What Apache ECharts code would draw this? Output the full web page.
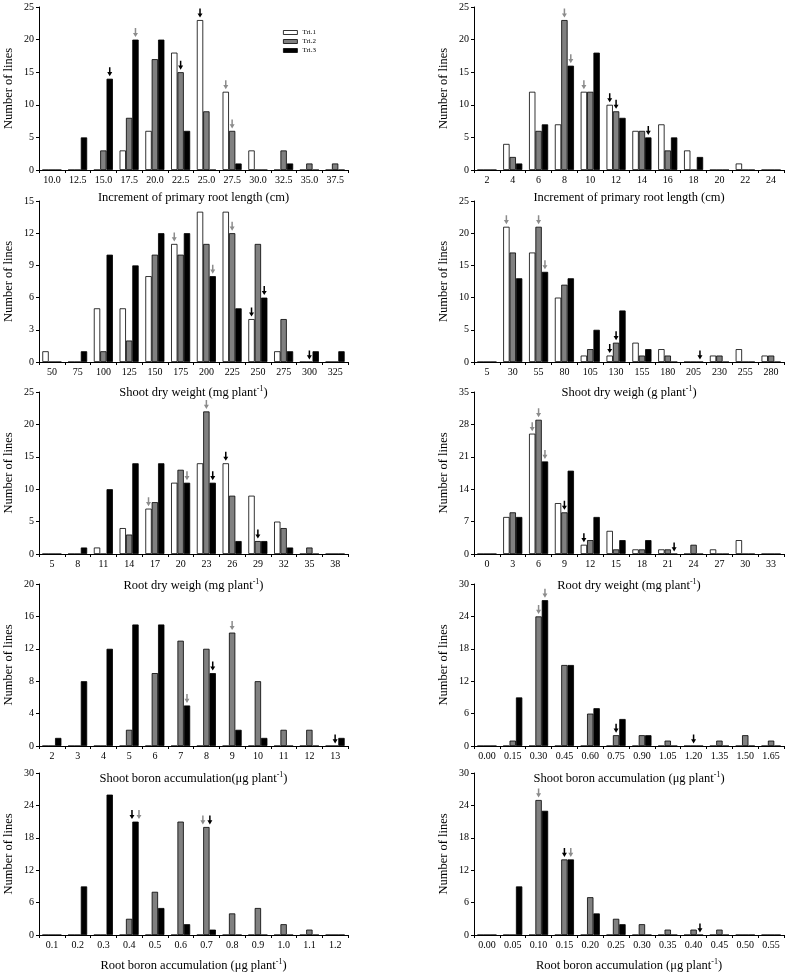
<!DOCTYPE html>
<html><head><meta charset="utf-8">
<script src="https://cdn.jsdelivr.net/npm/echarts@6/dist/echarts.min.js"></script>
<style>html,body{margin:0;padding:0;background:#fff}#c{width:787px;height:975px}</style>
</head><body><div id="c"></div>
<script>
const FONT = '"Liberation Serif", "Times New Roman", serif';
const seriesNames = ['Tri.1', 'Tri.2', 'Tri.3'];

// ---- Panel 1: Increment of primary root length (left) ----
const p1Cats = ['10.0','12.5','15.0','17.5','20.0','22.5','25.0','27.5','30.0','32.5','35.0','37.5'];
const p1Tri1 = [0,0,0,3,6,18,23,12,3,0,0,0];
const p1Tri2 = [0,0,3,8,17,15,9,6,0,3,1,1];
const p1Tri3 = [0,5,14,20,20,6,0,1,0,1,0,0];
const p1Ticks = [0,25,5];
const p1Arrows = [[2,2,'k'],[2,3,'g'],[1,5,'k'],[0,6,'k'],[0,7,'g'],[1,7,'g']];
const p1Name = 'Increment of primary root length (cm)';

// ---- Panel 2: Increment of primary root length (right) ----
const p2Cats = ['2','4','6','8','10','12','14','16','18','20','22','24'];
const p2Tri1 = [0,4,12,7,12,10,6,7,3,0,1,0];
const p2Tri2 = [0,2,6,23,12,9,6,3,0,0,0,0];
const p2Tri3 = [0,1,7,16,18,8,5,5,2,0,0,0];
const p2Ticks = [0,25,5];
const p2Arrows = [[1,3,'g'],[2,3,'g'],[0,4,'g'],[0,5,'k'],[1,5,'k'],[2,6,'k']];
const p2Name = 'Increment of primary root length (cm)';

// ---- Panel 3: Shoot dry weight (left) ----
const p3Cats = ['50','75','100','125','150','175','200','225','250','275','300','325'];
const p3Tri1 = [1,0,5,5,8,11,14,14,4,1,0,0];
const p3Tri2 = [0,0,1,2,10,10,11,12,11,4,0,0];
const p3Tri3 = [0,1,10,9,12,12,8,5,6,1,1,1];
const p3Ticks = [0,15,3];
const p3Arrows = [[0,5,'g'],[2,6,'g'],[1,7,'g'],[0,8,'k'],[2,8,'k'],[1,10,'k']];
const p3Name = 'Shoot dry weight (mg plant{s|-1})';

// ---- Panel 4: Shoot dry weigh (right) ----
const p4Cats = ['5','30','55','80','105','130','155','180','205','230','255','280'];
const p4Tri1 = [0,21,17,10,1,1,3,2,0,1,2,1];
const p4Tri2 = [0,17,21,12,2,3,1,1,0,1,0,1];
const p4Tri3 = [0,13,14,13,5,8,2,0,0,0,0,0];
const p4Ticks = [0,25,5];
const p4Arrows = [[0,1,'g'],[1,2,'g'],[2,2,'g'],[0,5,'k'],[1,5,'k'],[2,8,'k']];
const p4Name = 'Shoot dry weigh (g plant{s|-1})';

// ---- Panel 5: Root dry weigh (left) ----
const p5Cats = ['5','8','11','14','17','20','23','26','29','32','35','38'];
const p5Tri1 = [0,0,1,4,7,11,14,14,9,5,0,0];
const p5Tri2 = [0,0,0,3,8,13,22,9,2,4,1,0];
const p5Tri3 = [0,1,10,14,14,11,11,2,2,1,0,0];
const p5Ticks = [0,25,5];
const p5Arrows = [[0,4,'g'],[2,5,'g'],[1,6,'g'],[2,6,'k'],[0,7,'k'],[1,8,'k']];
const p5Name = 'Root dry weigh (mg plant{s|-1})';

// ---- Panel 6: Root dry weight (right) ----
const p6Cats = ['0','3','6','9','12','15','18','21','24','27','30','33'];
const p6Tri1 = [0,8,26,11,2,5,1,1,0,1,3,0];
const p6Tri2 = [0,9,29,9,3,1,1,1,2,0,0,0];
const p6Tri3 = [0,8,20,18,8,3,3,0,0,0,0,0];
const p6Ticks = [0,35,7];
const p6Arrows = [[0,2,'g'],[1,2,'g'],[2,2,'g'],[1,3,'k'],[0,4,'k'],[2,7,'k']];
const p6Name = 'Root dry weight (mg plant{s|-1})';

// ---- Panel 7: Shoot boron accumulation (left) ----
const p7Cats = ['2','3','4','5','6','7','8','9','10','11','12','13'];
const p7Tri1 = [0,0,0,0,0,0,0,0,0,0,0,0];
const p7Tri2 = [0,0,0,2,9,13,12,14,8,2,2,0];
const p7Tri3 = [1,8,12,15,15,5,9,2,1,0,0,1];
const p7Ticks = [0,20,4];
const p7Arrows = [[2,5,'g'],[2,6,'k'],[1,7,'g'],[1,11,'k']];
const p7Name = 'Shoot boron accumulation(\u03bcg plant{s|-1})';

// ---- Panel 8: Shoot boron accumulation (right) ----
const p8Cats = ['0.00','0.15','0.30','0.45','0.60','0.75','0.90','1.05','1.20','1.35','1.50','1.65'];
const p8Tri1 = [0,0,0,0,0,0,0,0,0,0,0,0];
const p8Tri2 = [0,1,24,15,6,2,2,1,0,1,2,1];
const p8Tri3 = [0,9,27,15,7,5,2,0,0,0,0,0];
const p8Ticks = [0,30,6];
const p8Arrows = [[1,2,'g'],[2,2,'g'],[1,5,'k'],[1,8,'k']];
const p8Name = 'Shoot boron accumulation (\u03bcg plant{s|-1})';

// ---- Panel 9: Root boron accumulation (left) ----
const p9Cats = ['0.1','0.2','0.3','0.4','0.5','0.6','0.7','0.8','0.9','1.0','1.1','1.2'];
const p9Tri1 = [0,0,0,0,0,0,0,0,0,0,0,0];
const p9Tri2 = [0,0,0,3,8,21,20,4,5,2,1,0];
const p9Tri3 = [0,9,26,21,5,2,1,0,0,0,0,0];
const p9Ticks = [0,30,6];
const p9Arrows = [[2,3,'k'],[2,3,'g'],[1,6,'g'],[1,6,'k']];
const p9Name = 'Root boron accumulation (\u03bcg plant{s|-1})';

// ---- Panel 10: Root boron accumulation (right) ----
const p10Cats = ['0.00','0.05','0.10','0.15','0.20','0.25','0.30','0.35','0.40','0.45','0.50','0.55'];
const p10Tri1 = [0,0,0,0,0,0,0,0,0,0,0,0];
const p10Tri2 = [0,0,25,14,7,3,2,1,1,1,0,0];
const p10Tri3 = [0,9,23,14,4,2,0,0,0,0,0,0];
const p10Ticks = [0,30,6];
const p10Arrows = [[1,2,'g'],[1,3,'k'],[2,3,'g'],[2,8,'k']];
const p10Name = 'Root boron accumulation (\u03bcg plant{s|-1})';

const panels = [
  {cats:p1Cats, tri:[p1Tri1,p1Tri2,p1Tri3], ticks:p1Ticks, arrows:p1Arrows, name:p1Name},
  {cats:p2Cats, tri:[p2Tri1,p2Tri2,p2Tri3], ticks:p2Ticks, arrows:p2Arrows, name:p2Name},
  {cats:p3Cats, tri:[p3Tri1,p3Tri2,p3Tri3], ticks:p3Ticks, arrows:p3Arrows, name:p3Name},
  {cats:p4Cats, tri:[p4Tri1,p4Tri2,p4Tri3], ticks:p4Ticks, arrows:p4Arrows, name:p4Name},
  {cats:p5Cats, tri:[p5Tri1,p5Tri2,p5Tri3], ticks:p5Ticks, arrows:p5Arrows, name:p5Name},
  {cats:p6Cats, tri:[p6Tri1,p6Tri2,p6Tri3], ticks:p6Ticks, arrows:p6Arrows, name:p6Name},
  {cats:p7Cats, tri:[p7Tri1,p7Tri2,p7Tri3], ticks:p7Ticks, arrows:p7Arrows, name:p7Name},
  {cats:p8Cats, tri:[p8Tri1,p8Tri2,p8Tri3], ticks:p8Ticks, arrows:p8Arrows, name:p8Name},
  {cats:p9Cats, tri:[p9Tri1,p9Tri2,p9Tri3], ticks:p9Ticks, arrows:p9Arrows, name:p9Name},
  {cats:p10Cats, tri:[p10Tri1,p10Tri2,p10Tri3], ticks:p10Ticks, arrows:p10Arrows, name:p10Name}
];

// layout (pixels)
const colLeft = [39, 474];
const colWidth = [309, 310];
const rowTop = [7, 201, 392, 584, 773];
const rowHeight = [163, 161, 162, 162, 162];
const rowNameGap = [20, 23, 24, 25, 23];

const barColors = ['#ffffff', '#808080', '#000000'];
const arrowColors = {k:'#000000', g:'#8c8c8c'};
const arrowPath = 'path://M3.5,0 L6.5,0 L6.5,7 L10,7 L5,13 L0,7 L3.5,7 Z';

const grid = [], xAxis = [], yAxis = [], series = [];
panels.forEach((p, i) => {
  const r = Math.floor(i / 2), c = i % 2;
  grid.push({left: colLeft[c], top: rowTop[r], width: colWidth[c], height: rowHeight[r], containLabel: false});
  xAxis.push({
    type: 'category', gridIndex: i, data: p.cats,
    axisLine: {lineStyle: {color: '#000', width: 1}},
    axisTick: {show: true, length: 3, interval: 0, alignWithLabel: false, lineStyle: {color: '#000'}},
    axisLabel: {interval: 0, fontSize: 10, color: '#000', fontFamily: FONT, margin: 5},
    splitLine: {show: false},
    name: p.name, nameLocation: 'middle', nameGap: rowNameGap[r],
    nameTextStyle: {fontSize: 12.5, color: '#000', fontFamily: FONT, lineHeight: 16,
      rich: {s: {fontSize: 8, lineHeight: 8, color: '#000', fontFamily: FONT, verticalAlign: 'top'}}}
  });
  yAxis.push({
    type: 'value', gridIndex: i, min: p.ticks[0], max: p.ticks[1], interval: p.ticks[2],
    axisLine: {show: true, lineStyle: {color: '#000', width: 1}},
    axisTick: {show: true, length: 3, lineStyle: {color: '#000'}},
    axisLabel: {fontSize: 10, color: '#000', fontFamily: FONT, margin: 5},
    splitLine: {show: false},
    name: 'Number of lines', nameLocation: 'middle', nameGap: 24,
    nameTextStyle: {fontSize: 12.5, color: '#000', fontFamily: FONT}
  });
  for (let j = 0; j < 3; j++) {
    const mine = p.arrows.filter(a => a[0] === j);
    const mp = mine.map(a => {
      const same = mine.filter(b => b[1] === a[1]);
      let dx = 0;
      if (same.length > 1) dx = same.indexOf(a) === 0 ? -3.5 : 3.5;
      return {
        coord: [a[1], p.tri[j][a[1]]],
        symbol: arrowPath, symbolSize: [5, 9], symbolOffset: [dx, -7],
        itemStyle: {color: arrowColors[a[2]]}
      };
    });
    series.push({
      type: 'bar', name: seriesNames[j], xAxisIndex: i, yAxisIndex: i,
      data: p.tri[j], barGap: '0%', barCategoryGap: '26%',
      itemStyle: {color: barColors[j], borderColor: '#000', borderWidth: 0.8},
      emphasis: {disabled: true},
      markPoint: {data: mp, label: {show: false}, silent: true, animation: false}
    });
  }
});

const chart = echarts.init(document.getElementById('c'), null, {renderer: 'canvas'});
chart.setOption({
  animation: false,
  backgroundColor: '#fff',
  legend: {
    data: seriesNames, orient: 'vertical', left: 283, top: 29, padding: 0,
    itemWidth: 14, itemHeight: 4, itemGap: 2, icon: 'rect', selectedMode: false,
    itemStyle: {borderColor: '#000', borderWidth: 0.8},
    textStyle: {fontSize: 7, color: '#000', fontFamily: FONT}
  },
  grid, xAxis, yAxis, series
});
</script></body></html>
